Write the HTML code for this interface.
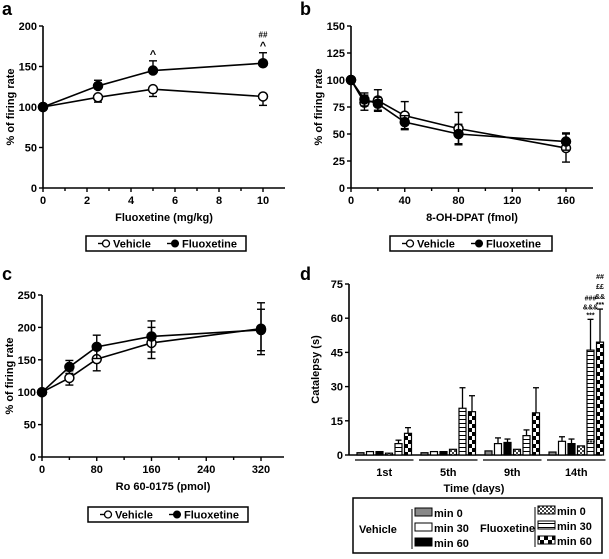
<!DOCTYPE html>
<html><head><meta charset="utf-8"><style>
html,body{margin:0;padding:0;background:#fff;}
svg{display:block;font-family:"Liberation Sans",Arial,sans-serif;font-weight:bold;}
</style></head><body>
<svg id="fig" width="609" height="559" viewBox="0 0 609 559">
<defs>
<pattern id="pChk" width="4" height="4" patternUnits="userSpaceOnUse"><rect width="4" height="4" fill="#fff"/><rect width="2" height="2" fill="#444"/><rect x="2" y="2" width="2" height="2" fill="#444"/></pattern>
<pattern id="pStr" width="4" height="4" patternUnits="userSpaceOnUse"><rect width="4" height="4" fill="#fff"/><rect y="3" width="4" height="1" fill="#000"/></pattern>
<pattern id="pBig" width="8" height="8" patternUnits="userSpaceOnUse"><rect width="8" height="8" fill="#fff"/><rect width="4" height="4" fill="#000"/><rect x="4" y="4" width="4" height="4" fill="#000"/></pattern>
</defs>
</svg>
<script>
// Panel a data
const aX=[0,2.5,5,10];
const aVeh=[100,112,122,113];
const aVehErr=[0,6,9,11];
const aFlx=[100,126,145,154];
const aFlxErr=[0,7,12,13];
const aXTicks=[0,2,4,6,8,10];
const aYTicks=[0,50,100,150,200];
// Panel b data
const bX=[0,10,20,40,80,160];
const bVeh=[100,79,81,67,55,37];
const bVehErr=[0,7,10,13,15,13];
const bFlx=[100,82,78,61,50,43];
const bFlxErr=[0,6,6,6,9,8];
const bXTicks=[0,40,80,120,160];
const bYTicks=[0,25,50,75,100,125,150];
// Panel c data
const cX=[0,40,80,160,320];
const cVeh=[100,122,151,176,198];
const cVehErr=[0,11,18,24,40];
const cFlx=[100,139,170,186,196];
const cFlxErr=[0,10,18,24,32];
const cXTicks=[0,80,160,240,320];
const cYTicks=[0,50,100,150,200,250];
// Panel d data
const dDays=["1st","5th","9th","14th"];
const dVehMin0=[1,1,1.8,1.3];
const dVehMin30=[1.5,1.5,5,6];
const dVehMin60=[1.5,1.5,5.5,5];
const dFlxMin0=[0.8,2.5,2.5,4];
const dFlxMin30=[5,20.5,8.5,46];
const dFlxMin60=[9.5,19,18.5,49.5];
const dErrVehMin30=[0,0,2.5,2];
const dErrVehMin60=[0,0,1.5,2];
const dErrFlxMin30=[1.5,9,2.5,13.5];
const dErrFlxMin60=[2.5,7,11,14.5];
const dYTicks=[0,15,30,45,60,75];

const NS="http://www.w3.org/2000/svg";
const svg=document.getElementById('fig');
function mk(tag,attrs,parent,text){const e=document.createElementNS(NS,tag);for(const k in attrs)e.setAttribute(k,attrs[k]);if(text!==undefined)e.textContent=text;(parent||svg).appendChild(e);return e;}
function txt(x,y,s,size,anchor,parent,name){const t=mk('text',{x:x,y:y,'font-size':size,'text-anchor':anchor||'middle'},parent,s);


return t;}

function linePanel(o){
  const g=mk('g',{});
  
  
  const sx=v=>o.x0+(v-o.xmin)/(o.xmax-o.xmin)*(o.x1-o.x0);
  const sy=v=>o.y0-(v-o.ymin)/(o.ymax-o.ymin)*(o.y0-o.y1);
  txt(o.lx,o.ly,o.letter,18,'start',g,'panel-letter');
  mk('line',{x1:o.x0,y1:o.y0,x2:o.xend,y2:o.y0,stroke:'#000','stroke-width':1.6},g);
  mk('line',{x1:o.x0,y1:o.y0,x2:o.x0,y2:o.y1,stroke:'#000','stroke-width':1.6},g);
  o.yt.forEach(v=>{mk('line',{x1:o.x0-4,y1:sy(v),x2:o.x0,y2:sy(v),stroke:'#000','stroke-width':1.4},g);txt(o.x0-6,sy(v)+4,v,11,'end',g,'y-tick-label');});
  const step=(o.xt[1]-o.xt[0])/2;
  for(let v=o.xmin;v<=o.xmax+1e-9;v+=step){const major=o.xt.some(t=>Math.abs(t-v)<1e-9);
    mk('line',{x1:sx(v),y1:o.y0,x2:sx(v),y2:o.y0+(major?4:3),stroke:'#000','stroke-width':1.4},g);}
  o.xt.forEach(v=>txt(sx(v),o.y0+16,v,11,'middle',g,'x-tick-label'));
  txt((o.x0+o.xend)/2,o.y0+33,o.xtitle,11,'middle',g,'x-axis-title');
  const yt=txt(0,0,'% of firing rate',11,'middle',g,'y-axis-title');
  yt.setAttribute('transform','translate('+(o.x0-29)+','+((o.y0+o.y1)/2)+') rotate(-90)');
  const series=[[o.veh,o.vehErr,'#fff','vehicle-series',o.vehDir],[o.flx,o.flxErr,'#000','fluoxetine-series',o.flxDir]];
  series.forEach(([ys,es,fill,nm,dir])=>{
    const sg=mk('g',{},g);
    
    
    mk('polyline',{points:o.xs.map((x,i)=>sx(x)+','+sy(ys[i])).join(' '),fill:'none',stroke:'#000','stroke-width':1.6},sg);
    o.xs.forEach((x,i)=>{if(!es[i])return;const X=sx(x);
      const hi=dir>=0?sy(ys[i]+es[i]):sy(ys[i]);
      const lo=dir<=0?sy(ys[i]-es[i]):sy(ys[i]);
      mk('line',{x1:X,y1:hi,x2:X,y2:lo,stroke:'#000','stroke-width':1.4},sg);
      if(dir>=0)mk('line',{x1:X-4,y1:hi,x2:X+4,y2:hi,stroke:'#000','stroke-width':1.4},sg);
      if(dir<=0)mk('line',{x1:X-4,y1:lo,x2:X+4,y2:lo,stroke:'#000','stroke-width':1.4},sg);});
    o.xs.forEach((x,i)=>{const c=mk('circle',{cx:sx(x),cy:sy(ys[i]),r:4.5,fill:fill,stroke:'#000','stroke-width':1.5},sg);
      
      });
  });
  if(o.ann)o.ann(sx,sy,g);
  const L=o.leg;
  const lg=mk('g',{},g);
  
  
  mk('rect',{x:L[0],y:L[1],width:L[2],height:15,fill:'#fff',stroke:'#000','stroke-width':1.5},lg);
  const cy=L[1]+7.5;
  mk('line',{x1:L[0]+12,y1:cy,x2:L[0]+24,y2:cy,stroke:'#000','stroke-width':1.4},lg);
  mk('circle',{cx:L[0]+20,cy:cy,r:3.5,fill:'#fff',stroke:'#000','stroke-width':1.3},lg);
  txt(L[0]+27,cy+4,'Vehicle',11,'start',lg,'legend-vehicle');
  mk('line',{x1:L[0]+81,y1:cy,x2:L[0]+93,y2:cy,stroke:'#000','stroke-width':1.4},lg);
  mk('circle',{cx:L[0]+89,cy:cy,r:3.5,fill:'#000',stroke:'#000'},lg);
  txt(L[0]+96,cy+4,'Fluoxetine',11,'start',lg,'legend-fluoxetine');
}

linePanel({name:'panel-a',letter:'a',lx:2,ly:15,x0:43,x1:263,xmin:0,xmax:10,xend:285,y0:188,y1:26,ymin:0,ymax:200,
  xs:aX,veh:aVeh,vehErr:aVehErr,flx:aFlx,flxErr:aFlxErr,vehDir:-1,flxDir:1,xt:aXTicks,yt:aYTicks,xtitle:'Fluoxetine (mg/kg)',leg:[86,236,160],
  ann:(sx,sy,g)=>{txt(sx(5),sy(145+12)-3,'^',11,'middle',g,'annotation');txt(sx(10),sy(154+13)-3,'^',11,'middle',g,'annotation');txt(sx(10),sy(154+13)-15,'##',8,'middle',g,'annotation');}});
linePanel({name:'panel-b',letter:'b',lx:300,ly:15,x0:351,x1:566,xmin:0,xmax:160,xend:593,y0:188,y1:26,ymin:0,ymax:150,
  xs:bX,veh:bVeh,vehErr:bVehErr,flx:bFlx,flxErr:bFlxErr,vehDir:0,flxDir:0,xt:bXTicks,yt:bYTicks,xtitle:'8-OH-DPAT (fmol)',leg:[390,236,162]});
linePanel({name:'panel-c',letter:'c',lx:2,ly:280,x0:42,x1:261,xmin:0,xmax:320,xend:284,y0:457,y1:295,ymin:0,ymax:250,
  xs:cX,veh:cVeh,vehErr:cVehErr,flx:cFlx,flxErr:cFlxErr,vehDir:0,flxDir:0,xt:cXTicks,yt:cYTicks,xtitle:'Ro 60-0175 (pmol)',leg:[88,507,160]});

(function(){
  const g=mk('g',{});
  
  
  const x0=349,y0=455,y1=284,ymax=75;
  const sy=v=>y0-v/ymax*(y0-y1);
  txt(300,280,'d',18,'start',g,'panel-letter');
  mk('line',{x1:x0,y1:y0,x2:602,y2:y0,stroke:'#000','stroke-width':1.6},g);
  mk('line',{x1:x0,y1:y0,x2:x0,y2:y1,stroke:'#000','stroke-width':1.6},g);
  dYTicks.forEach(v=>{mk('line',{x1:x0-4,y1:sy(v),x2:x0,y2:sy(v),stroke:'#000','stroke-width':1.4},g);txt(x0-6,sy(v)+4,v,11,'end',g,'y-tick-label');});
  const yt=txt(0,0,'Catalepsy (s)',11,'middle',g,'y-axis-title');
  yt.setAttribute('transform','translate(319,'+((y0+y1)/2)+') rotate(-90)');
  const series=[[dVehMin0,null,'#888'],[dVehMin30,dErrVehMin30,'#fff'],[dVehMin60,dErrVehMin60,'#000'],[dFlxMin0,null,'url(#pChk)'],[dFlxMin30,dErrFlxMin30,'url(#pStr)'],[dFlxMin60,dErrFlxMin60,'url(#pBig)']];
  const gStart=357,gStep=64,bStep=9.5,bw=7;
  dDays.forEach((d,gi)=>{
    const gx=gStart+gi*gStep;
    series.forEach(([vals,errs,fill],si)=>{
      const x=gx+si*bStep,v=vals[gi];
      if(errs&&errs[gi]){const X=x+bw/2,t=sy(v+errs[gi]);
        mk('line',{x1:X,y1:sy(v),x2:X,y2:t,stroke:'#000','stroke-width':1.3},g);
        mk('line',{x1:X-3,y1:t,x2:X+3,y2:t,stroke:'#000','stroke-width':1.3},g);}
      const r=mk('rect',{x:x,y:sy(v),width:bw,height:y0-sy(v),fill:fill,stroke:'#000','stroke-width':1.2},g);
      
      
    });
    mk('line',{x1:gx-2,y1:460,x2:gx+5*bStep+bw+2,y2:460,stroke:'#000','stroke-width':1.3},g);
    txt(gx+(5*bStep+bw)/2,476,d,11,'middle',g,'x-tick-label');
  });
  txt(474,492,'Time (days)',11,'middle',g,'x-axis-title');
  const gx=gStart+3*gStep;
  const a4=gx+4*bStep+bw/2,a5=gx+5*bStep+bw/2;
  let t4=sy(dFlxMin30[3]+dErrFlxMin30[3]);
  txt(a4,t4-2,'***',7,'middle',g,'annotation');txt(a4,t4-10,'&&&',7,'middle',g,'annotation');txt(a4,t4-19,'###',7,'middle',g,'annotation');
  let t5=sy(dFlxMin60[3]+dErrFlxMin60[3]);
  txt(a5,t5-2,'***',7,'middle',g,'annotation');txt(a5,t5-10,'&&',7,'middle',g,'annotation');txt(a5,t5-20,'££',7,'middle',g,'annotation');txt(a5,t5-30,'##',7,'middle',g,'annotation');
  txt(gx+3*bStep+bw/2+10,sy(dFlxMin0[3])-1,'***',7,'middle',g,'annotation');
  const lg=mk('g',{},g);
  
  
  mk('rect',{x:353,y:498,width:249,height:55,fill:'#fff',stroke:'#000','stroke-width':1.5},lg);
  txt(359,533,'Vehicle',11,'start',lg,'legend-vehicle-group');
  mk('line',{x1:412,y1:509,x2:412,y2:549,stroke:'#000','stroke-width':1},lg);
  txt(480,532,'Fluoxetine',11,'start',lg,'legend-fluoxetine-group');
  mk('line',{x1:535,y1:507,x2:535,y2:547,stroke:'#000','stroke-width':1},lg);
  const rows=[['#888','min 0',517],['#fff','min 30',532],['#000','min 60',547]];
  rows.forEach(([f,l,y])=>{mk('rect',{x:415,y:y-9,width:17,height:8,fill:f,stroke:'#000'},lg);txt(434,y,l,11,'start',lg,'legend-vehicle-'+l.replace(' ','-'));});
  const rows2=[['url(#pChk)','min 0',515],['url(#pStr)','min 30',530],['url(#pBig)','min 60',545]];
  rows2.forEach(([f,l,y])=>{mk('rect',{x:538,y:y-9,width:17,height:8,fill:f,stroke:'#000'},lg);txt(557,y,l,11,'start',lg,'legend-fluoxetine-'+l.replace(' ','-'));});
})();
</script>
</body></html>
